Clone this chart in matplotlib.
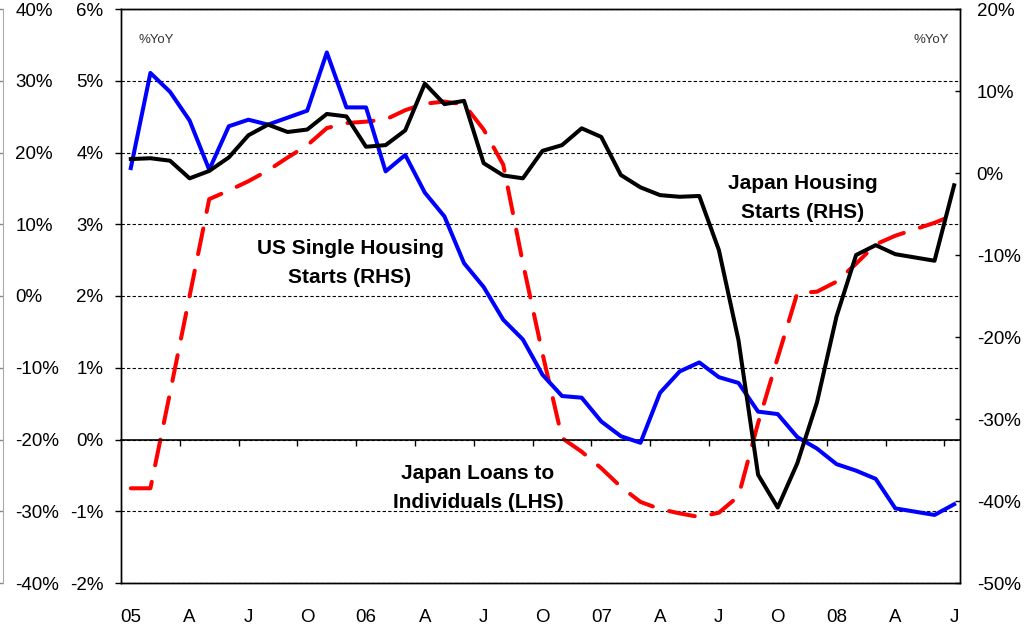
import numpy as np
import matplotlib
matplotlib.use("Agg")
import matplotlib.pyplot as plt
from matplotlib.ticker import FixedLocator, FuncFormatter, NullFormatter

plt.rcParams['font.family'] = ['Liberation Sans', 'DejaVu Sans']

# ---------------- data (monthly, Jan 2005 .. Jul 2008) ----------------
x_labels = ['05', 'A', 'J', 'O', '06', 'A', 'J', 'O', '07', 'A', 'J', 'O', '08', 'A', 'J']

# Japan loans to individuals, %YoY (LHS)
japan_loans = [-0.68, -0.68, 0.65, 2.0, 3.35, 3.47, 3.6, 3.75, 3.93, 4.1,
               4.34, 4.41, 4.43, 4.46, 4.59, 4.68, 4.71, 4.67, 4.32, 3.83,
               2.46, 1.2, 0.02, -0.17, -0.40, -0.66, -0.87, -0.97, -1.03, -1.08,
               -1.02, -0.79, 0.23, 1.14, 2.04, 2.06, 2.20, 2.45, 2.72, 2.84,
               2.93, 3.02, 3.13]

# US single housing starts, %YoY (RHS)
us_single_starts = [0.6, 12.2, 9.9, 6.4, 0.4, 5.7, 6.5, 5.9, 6.75, 7.6,
                    14.7, 8.0, 8.0, 0.2, 2.2, -2.4, -5.3, -11.0, -13.9, -17.9,
                    -20.3, -24.6, -27.2, -27.4, -30.3, -32.1, -32.9, -26.8, -24.2, -23.1,
                    -24.9, -25.6, -29.1, -29.4, -32.2, -33.6, -35.5, -36.3, -37.3, -40.9,
                    -41.3, -41.7, -40.4]

# Japan housing starts, %YoY (RHS)
japan_starts = [1.7, 1.8, 1.5, -0.65, 0.25, 1.9, 4.6, 5.9, 5.0, 5.3,
                7.2, 6.9, 3.2, 3.4, 5.2, 10.9, 8.4, 8.8, 1.2, -0.3,
                -0.65, 2.7, 3.4, 5.45, 4.4, -0.25, -1.75, -2.7, -2.9, -2.8,
                -9.4, -20.4, -36.8, -40.8, -35.4, -28.0, -17.5, -10.0, -8.8, -9.9,
                -10.3, -10.7, -1.5]

lhs_ticks = [-2, -1, 0, 1, 2, 3, 4, 5, 6]
rhs_ticks = [-50, -40, -30, -20, -10, 0, 10, 20]
outer_ticks = [-40, -30, -20, -10, 0, 10, 20, 30, 40]

# ---------------- layout ----------------
W, H = 1028, 627
fig = plt.figure(figsize=(W / 100, H / 100), dpi=100)


def fx(px):
    return px / W


def fy(py):
    return 1 - py / H


L, R, T, B = 121, 960, 9, 583
ax = fig.add_axes([fx(L), fy(B), fx(R) - fx(L), fy(T) - fy(B)])
x = np.arange(len(japan_loans))
xmin, xmax = -0.5, 42.3
ax.set_xlim(xmin, xmax)
ax.set_ylim(-2, 6)

pct = FuncFormatter(lambda v, p: f'{v:.0f}%')
TICKFS = 13.5

# LHS axis
ax.yaxis.set_major_locator(FixedLocator(lhs_ticks))
ax.yaxis.set_major_formatter(pct)
ax.tick_params(axis='y', direction='out', length=4.3, width=1, pad=8.5,
               labelsize=TICKFS, colors='black')
ax.yaxis.grid(True, linestyle=(0, (3, 2)), color='black', linewidth=0.8)
ax.set_axisbelow(True)

# x labels at bottom (no tick marks)
ax.xaxis.set_major_locator(FixedLocator(np.arange(0, len(x), 3)))
ax.set_xticklabels(x_labels)
ax.tick_params(axis='x', length=0, pad=19, labelsize=TICKFS)
for s in ax.spines.values():
    s.set_linewidth(1.0)
    s.set_color('black')

ax.plot(x, japan_loans, color='#ff0000', lw=2.9, dashes=(6.5, 4.2),
        dash_capstyle='round', solid_joinstyle='round', zorder=3)

# zero line with quarter tick marks
axz = ax.twiny()
axz.set_xlim(xmin, xmax)
axz.spines['bottom'].set_position(('data', 0))
axz.spines['bottom'].set_linewidth(1.2)
for k in ('top', 'left', 'right'):
    axz.spines[k].set_visible(False)
axz.xaxis.set_ticks_position('bottom')
axz.xaxis.set_major_locator(FixedLocator(np.arange(2.5, 42, 3)))
axz.xaxis.set_major_formatter(NullFormatter())
axz.tick_params(axis='x', direction='out', length=4.3, width=1)

# RHS axis
ax2 = ax.twinx()
ax2.set_ylim(-50, 20)
ax2.yaxis.set_major_locator(FixedLocator(rhs_ticks))
ax2.yaxis.set_major_formatter(pct)
ax2.tick_params(axis='y', direction='in', length=3.6, width=1, pad=12,
                labelsize=TICKFS)
for s in ax2.spines.values():
    s.set_linewidth(1.0)
ax2.plot(x, us_single_starts, color='#0000ff', lw=2.9, solid_joinstyle='round', zorder=3)
ax2.plot(x, japan_starts, color='black', lw=2.9, solid_joinstyle='round', zorder=4)

# outer left axis
ax3 = fig.add_axes([fx(3), fy(B), 0.0002, fy(T) - fy(B)])
ax3.set_ylim(-40, 40)
ax3.yaxis.set_major_locator(FixedLocator(outer_ticks))
ax3.yaxis.set_major_formatter(pct)
ax3.tick_params(axis='y', left=True, right=False, labelleft=False, labelright=True,
                direction='out', length=2.9, width=1, pad=5.7, labelsize=TICKFS,
                color='#888888', labelcolor='black')
ax3.xaxis.set_visible(False)
for k in ('top', 'bottom', 'right'):
    ax3.spines[k].set_visible(False)
ax3.spines['left'].set_color('#aaaaaa')
ax3.patch.set_visible(False)

# ---------------- annotations ----------------
def ax_pt(px, py):
    return ((px - L) / (R - L), (B - py) / (B - T))


ANN = dict(fontsize=15, fontweight='bold', ha='center', va='center',
           multialignment='center', linespacing=1.7, transform=ax2.transAxes, zorder=6)
ax2.text(*ax_pt(350, 263), 'US Single Housing\nStarts (RHS)', **ANN)
ax2.text(*ax_pt(803, 198), 'Japan Housing\nStarts (RHS)', **ANN)
ax2.text(*ax_pt(478, 488), 'Japan Loans to\nIndividuals (LHS)', **ANN)

ax2.text(*ax_pt(156, 40), '%YoY', fontsize=9.5, color='#333333', ha='center', va='center',
         transform=ax2.transAxes)
ax2.text(*ax_pt(931, 40), '%YoY', fontsize=9.5, color='#333333', ha='center', va='center',
         transform=ax2.transAxes)

fig.savefig('out.png', dpi=100)
